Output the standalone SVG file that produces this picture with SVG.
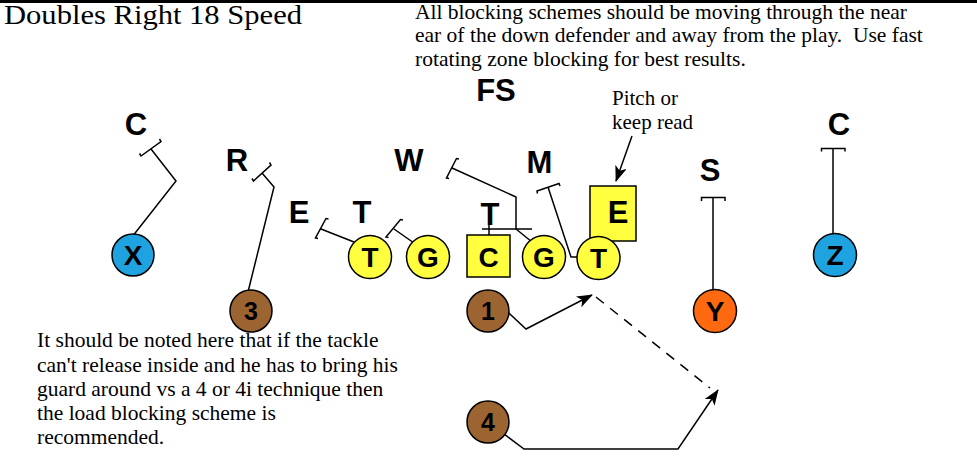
<svg xmlns="http://www.w3.org/2000/svg" width="977" height="467" viewBox="0 0 977 467">
<defs>
<marker id="arr" markerUnits="userSpaceOnUse" markerWidth="16" markerHeight="12" viewBox="0 0 16 12" refX="15" refY="6" orient="auto">
<path d="M0,0 L16,6 L0,12 L4,6 z" fill="#000"/>
</marker>
<style>
.lbl{font-family:"Liberation Sans",Arial,sans-serif;font-weight:bold;font-size:31px;text-anchor:middle;fill:#000}
.in{font-family:"Liberation Sans",Arial,sans-serif;font-weight:bold;font-size:28px;text-anchor:middle;fill:#000}
.num{font-family:"Liberation Sans",Arial,sans-serif;font-weight:bold;font-size:25px;text-anchor:middle;fill:#000}
.serif{font-family:"Liberation Serif","Times New Roman",serif;fill:#000}
.ln{fill:none;stroke:#000;stroke-width:1.5}
.yel{fill:#FFFF40;stroke:#000;stroke-width:1.5}
.blu{fill:#1EA3E0;stroke:#000;stroke-width:1.5}
.brn{fill:#9C6431;stroke:#000;stroke-width:1.5}
.org{fill:#FF6A10;stroke:#000;stroke-width:1.5}
</style>
</defs>
<rect x="0" y="0" width="977" height="3" fill="#000"/>
<text class="serif" x="4" y="24" font-size="28" textLength="298" lengthAdjust="spacingAndGlyphs">Doubles Right 18 Speed</text>
<g id="note-top" class="serif" font-size="21.5">
<text x="415" y="18.5">All blocking schemes should be moving through the near</text>
<text x="415" y="42">ear of the down defender and away from the play.&#160; Use fast</text>
<text x="415" y="65.5">rotating zone blocking for best results.</text>
</g>
<g id="note-pitch" class="serif" font-size="21">
<text x="612" y="105">Pitch or</text>
<text x="612" y="128.5">keep read</text>
</g>
<g id="note-bottom" class="serif" font-size="21.5">
<text x="37" y="347">It should be noted here that if the tackle</text>
<text x="37" y="372">can't release inside and he has to bring his</text>
<text x="37" y="396">guard around vs a 4 or 4i technique then</text>
<text x="37" y="420">the load blocking scheme is</text>
<text x="37" y="444">recommended.</text>
</g>
<g id="defense">
<text class="lbl" x="136" y="135">C</text>
<text class="lbl" x="237" y="171">R</text>
<text class="lbl" x="299" y="223">E</text>
<text class="lbl" x="362" y="223">T</text>
<text class="lbl" x="409" y="171">W</text>
<text class="lbl" x="496" y="101">FS</text>
<text class="lbl" x="490" y="225">T</text>
<text class="lbl" x="539.5" y="173">M</text>
<text class="lbl" x="710" y="180.5">S</text>
<text class="lbl" x="839" y="135">C</text>
<g id="de-right">
<rect class="yel" x="590" y="186" width="46" height="55"/>
<text class="lbl" x="618" y="223" font-size="32">E</text>
</g>
</g>
<g id="connectors">
<path class="ln" d="M139.5,153.5 L141,156 L161,141.5 L159.5,139 M151,149 L176,181 L132,237"/>
<path class="ln" d="M252,178.5 L253.5,181 L271,165 L269.5,162.5 M262,173 L274,187 L248,292"/>
<path class="ln" d="M318,238.5 L315.5,238 L326,218.5 L328.5,219 M321,229 L354,242"/>
<path class="ln" d="M388.5,237.5 L386,237 L400.5,219.5 L403,220 M394,229 L414,243"/>
<path class="ln" d="M449,178.5 L446.5,178 L456.5,158.5 L459,159 M452,168 L516,197 L516,229 L532,242"/>
<path class="ln" d="M482,229 L532,229 M489,225 L489,235"/>
<path class="ln" d="M537.5,193.5 L537,191 L559,183.5 L560,186 M548,187 L571,257 L577,257"/>
<path class="ln" d="M701.5,201 L701.5,197.5 L725,197.5 L725,201 M713,197.5 L713,291"/>
<path class="ln" d="M821.5,151.5 L821.5,148.5 L845,148.5 L845,151.5 M833,148.5 L833,234"/>
<path class="ln" d="M632,136 L616,181" marker-end="url(#arr)"/>
<path class="ln" d="M498,303 L526,329 L592,295" marker-end="url(#arr)"/>
<path class="ln" d="M596,297 L710,388" stroke-dasharray="10,8"/>
<path class="ln" d="M500,431 L524,449 L678,449 L718,390" marker-end="url(#arr)"/>
</g>
<g id="X"><circle class="blu" cx="133" cy="255" r="21"/><text class="in" x="133" y="264.5" font-size="27">X</text></g>
<g id="p3"><circle class="brn" cx="251" cy="311" r="21"/><text class="num" x="251" y="320">3</text></g>
<g id="LT"><circle class="yel" cx="370" cy="257" r="21.5"/><text class="in" x="370" y="267">T</text></g>
<g id="LG"><circle class="yel" cx="428" cy="257" r="21.5"/><text class="in" x="428" y="267">G</text></g>
<g id="C"><rect class="yel" x="467" y="235" width="43" height="42"/><text class="in" x="488.5" y="267">C</text></g>
<g id="RG"><circle class="yel" cx="544" cy="257" r="21.5"/><text class="in" x="544" y="267">G</text></g>
<g id="RT"><circle class="yel" cx="598.5" cy="258" r="21.5"/><text class="in" x="598.5" y="267.5">T</text></g>
<g id="Y"><circle class="org" cx="715" cy="311" r="21.5"/><text class="in" x="715" y="321" font-size="27">Y</text></g>
<g id="Z"><circle class="blu" cx="835" cy="255" r="21.5"/><text class="in" x="835" y="264.5" font-size="27">Z</text></g>
<g id="p1"><circle class="brn" cx="488" cy="311" r="21"/><text class="num" x="488" y="320">1</text></g>
<g id="p4"><circle class="brn" cx="488" cy="422" r="21"/><text class="num" x="488" y="431">4</text></g>
</svg>
